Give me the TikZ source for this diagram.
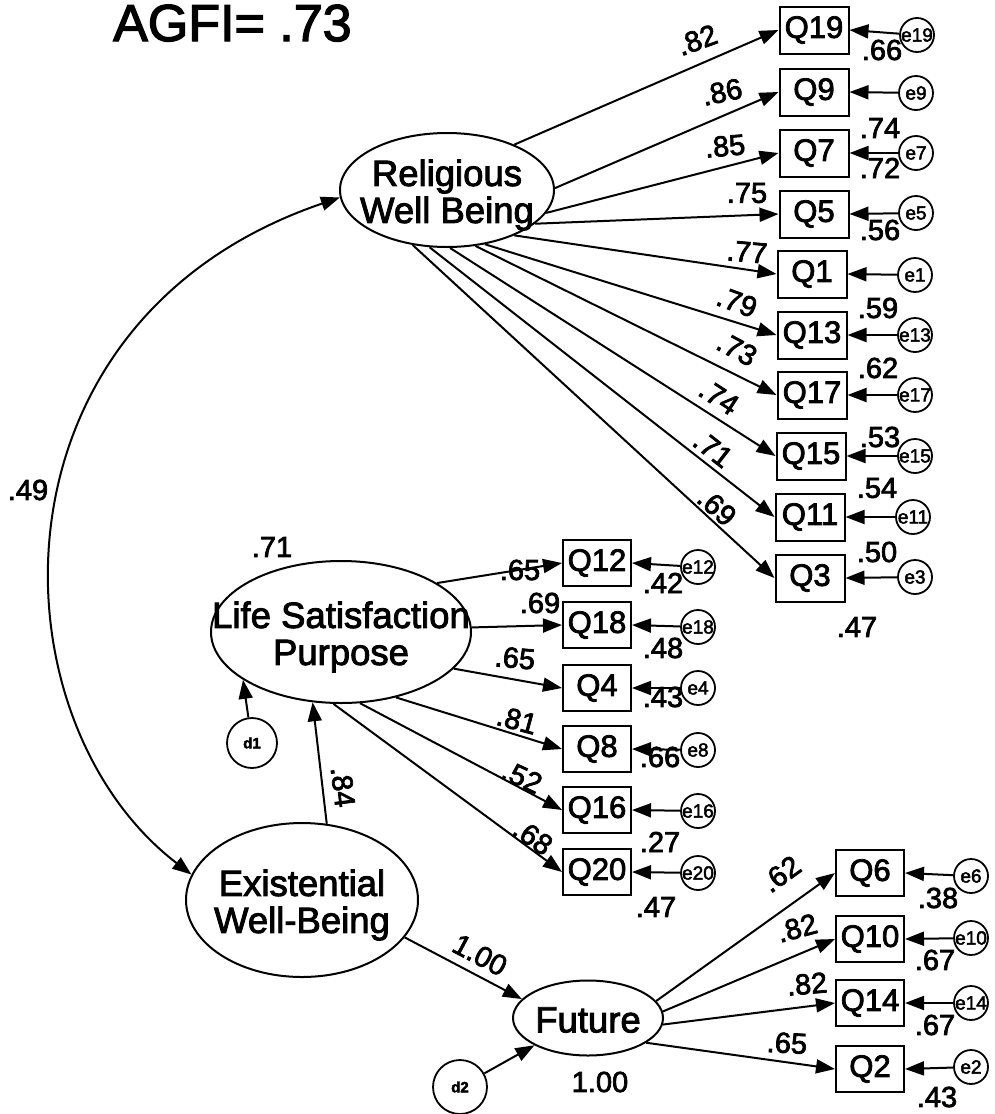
\documentclass[tikz,border=0pt]{standalone}
\usepackage{fontspec}
\setmainfont{Liberation Sans}[FakeBold=2.5]
\usetikzlibrary{shapes.geometric,arrows.meta}
\newcommand\lvfont{\fontsize{36.5}{37}\selectfont}
\newcommand\qfont{\fontsize{31}{32}\selectfont}
\newcommand\cfont{\fontsize{29}{30}\selectfont}
\newcommand\efnt{\fontsize{19}{20}\selectfont}
\newcommand\dfnt{\fontsize{15}{16}\selectfont\bfseries}
\begin{document}
\begin{tikzpicture}[x=1pt,y=-1pt,
  lat/.style={ellipse, draw, line width=2pt, inner sep=0pt},
  lvlab/.style={font=\lvfont, align=center, inner sep=0pt, yshift=-5pt},
  obs/.style={rectangle, draw, line width=2pt, minimum width=68pt, minimum height=46pt, inner sep=0pt, font=\qfont},
  err/.style={circle, draw, line width=1.8pt, minimum size=34pt, inner sep=0pt},
  elab/.style={font=\efnt, inner sep=0pt},
  dist/.style={circle, draw, line width=1.8pt, inner sep=0pt, font=\dfnt},
  arr/.style={line width=2pt, -{Triangle[length=19pt,width=14pt]}},
  coef/.style={font=\cfont, inner sep=0pt}]
\useasboundingbox (0,0) rectangle (994,1114);

\node[anchor=base west, font=\fontsize{52}{54}\selectfont, inner sep=0pt] (agfi) at (113,41) {AGFI= .73};

% latent variables
\node[lat, minimum width=214pt, minimum height=114pt, label={[lvlab]center:Religious\\Well Being}] (rel) at (447,190) {};
\node[lat, minimum width=260pt, minimum height=142pt, label={[lvlab]center:Life Satisfaction\\Purpose}] (life) at (341,632) {};
\node[lat, minimum width=232pt, minimum height=154pt, label={[lvlab]center:Existential\\Well-Being}] (exist) at (302,900) {};
\node[lat, minimum width=150pt, minimum height=75pt, label={[lvlab,yshift=3pt]center:Future}] (fut) at (588,1018) {};

% disturbances
\node[dist, minimum size=50pt] (d1) at (252,743) {d1};
\node[dist, minimum size=54pt] (d2) at (460,1087) {d2};

% Religious indicators
\foreach \n/\x/\y/\ex/\ey in {19/814/30/917/35, 9/814/92/916/93, 7/814/153/916/153, 5/814/214/916/213, 1/812/274/915/275, 13/812/335/915/335, 17/812/395/915/395, 15/811/456/915/456, 11/810/517/913/517, 3/810/578/915/577}{
  \node[obs, minimum width=69pt, minimum height=47pt] (q\n) at (\x,\y) {Q\n};
  \node[err, label={[elab]center:e\n}] (e\n) at (\ex,\ey) {};
  \draw[arr] (e\n) -- (q\n.east);
}
% Life indicators
\foreach \n/\y/\ey in {12/563/567, 18/625/627, 4/688/688, 8/749/750, 16/810/811, 20/872/873}{
  \node[obs] (q\n) at (597,\y) {Q\n};
  \node[err, label={[elab]center:e\n}] (e\n) at (698,\ey) {};
  \draw[arr] (e\n) -- (q\n.east);
}
% Future indicators
\foreach \n/\y/\ey in {6/873/876, 10/939/938, 14/1003/1003, 2/1069/1067}{
  \node[obs] (q\n) at (870,\y) {Q\n};
  \node[err, label={[elab]center:e\n}] (e\n) at (971,\ey) {};
  \draw[arr] (e\n) -- (q\n.east);
}

% loadings
\foreach \n/\a in {19/34, 9/1, 7/-13, 5/-21, 1/-34, 13/-55, 17/-63, 15/-87, 11/-107, 3/-122}
  \draw[arr] (rel.\a) -- (q\n.west);
\foreach \n/\a in {12/27.5, 18/2, 4/-18, 8/-50, 16/-75, 20/-96}
  \draw[arr] (life.\a) -- (q\n.west);
\foreach \n/\a in {6/14, 10/5, 14/-5, 2/-23}
  \draw[arr] (fut.\a) -- (q\n.west);

% structural paths
\draw[arr] (d1) -- (life.206);
\draw[arr] (exist.72) -- (life.248);
\draw[arr] (exist.-20) -- (fut.164);
\draw[arr] (d2) -- (fut.207);
\draw[line width=2pt, {Triangle[length=19pt,width=14pt]}-{Triangle[length=19pt,width=14pt]}]
  (exist.167) .. controls (-10,720) and (-20,320) .. (rel.184);

% coefficients: Religious
\node[coef, rotate=20] (c19) at (697,40) {.82};
\node[coef, rotate=12] (c9) at (722,92) {.86};
\node[coef, rotate=5] (c7) at (725,146) {.85};
\node[coef] (c5) at (747,193) {.75};
\node[coef, rotate=-5] (c1) at (747,252) {.77};
\node[coef, rotate=-20] (c13) at (737,302) {.79};
\node[coef, rotate=-28] (c17) at (737,349) {.73};
\node[coef, rotate=-33] (c15) at (719,397) {.74};
\node[coef, rotate=-38] (c11) at (713,449) {.71};
\node[coef, rotate=-42] (c3) at (717,507) {.69};
% R2 Religious
\node[coef] (r19) at (882,50) {.66};
\node[coef] (r9) at (880,128) {.74};
\node[coef] (r7) at (880,168) {.72};
\node[coef] (r5) at (880,230) {.56};
\node[coef] (r1) at (878,308) {.59};
\node[coef] (r13) at (878,368) {.62};
\node[coef] (r17) at (880,437) {.53};
\node[coef] (r15) at (877,488) {.54};
\node[coef] (r11) at (877,552) {.50};
\node[coef] (r3) at (857,627) {.47};

% coefficients: Life
\node[coef] (c12) at (520,570) {.65};
\node[coef] (c18) at (540,603) {.69};
\node[coef, rotate=-5] (c4) at (515,658) {.65};
\node[coef, rotate=-15] (c8) at (517,720) {.81};
\node[coef, rotate=-25] (c16) at (522,777) {.52};
\node[coef, rotate=-35] (c20) at (533,837) {.68};
\node[coef] (r12) at (663,583) {.42};
\node[coef] (r18) at (663,648) {.48};
\node[coef] (r4) at (663,697) {.43};
\node[coef] (r8) at (660,757) {.66};
\node[coef] (r16) at (660,842) {.27};
\node[coef] (r20) at (656,907) {.47};

% coefficients: Future
\node[coef, rotate=36] (c6) at (781,874) {.62};
\node[coef, rotate=15] (c10) at (797,928) {.82};
\node[coef, rotate=5] (c14) at (807,984) {.82};
\node[coef, rotate=-3] (c2) at (787,1043) {.65};
\node[coef] (r6) at (938,898) {.38};
\node[coef] (r10) at (935,960) {.67};
\node[coef] (r14) at (935,1025) {.67};
\node[coef] (r2) at (937,1097) {.43};

% structural labels
\node[coef] (c49) at (28,490) {.49};
\node[coef] (c71) at (272,547) {.71};
\node[coef, rotate=-83] (c84) at (343,787) {.84};
\node[coef, rotate=-28] (c100a) at (480,955) {1.00};
\node[coef] (c100b) at (600,1082) {1.00};
\end{tikzpicture}
\end{document}
